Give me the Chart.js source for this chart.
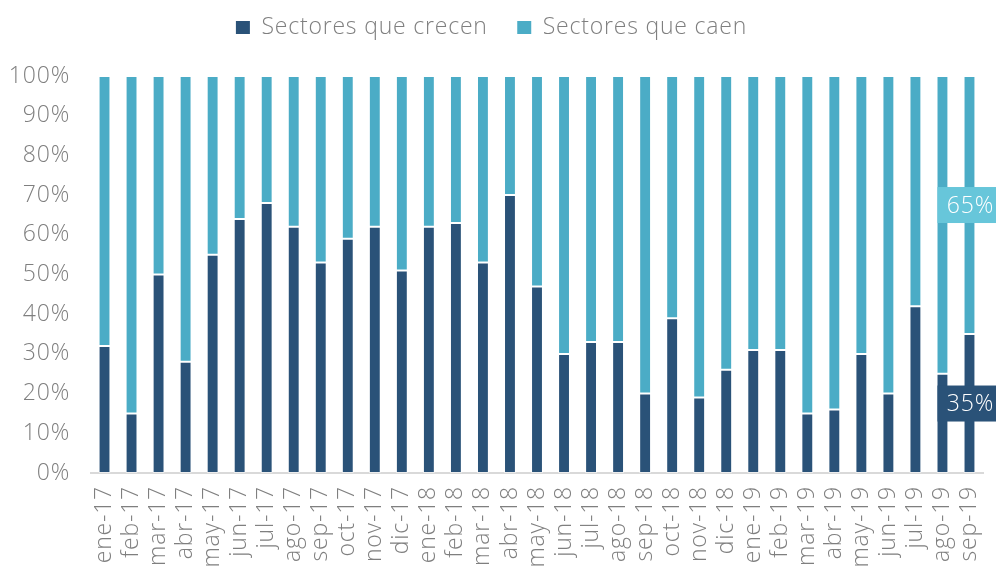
<!DOCTYPE html>
<html><head><meta charset="utf-8">
<script src="https://cdn.jsdelivr.net/npm/chart.js@4"></script>
<style>html,body{margin:0;padding:0;background:#fff;}#wrap{width:996px;height:568px;}</style>
</head><body><div id="wrap"><canvas id="c" width="996" height="568"></canvas></div>
<script>
const categories = ["ene-17","feb-17","mar-17","abr-17","may-17","jun-17","jul-17","ago-17","sep-17","oct-17","nov-17","dic-17",
  "ene-18","feb-18","mar-18","abr-18","may-18","jun-18","jul-18","ago-18","sep-18","oct-18","nov-18","dic-18",
  "ene-19","feb-19","mar-19","abr-19","may-19","jun-19","jul-19","ago-19","sep-19"];
const crecen = [32,15,50,28,55,64,68,62,53,59,62,51,62,63,53,70,47,30,33,33,20,39,19,26,31,31,15,16,30,20,42,25,35];
const caen   = [68,85,50,72,45,36,32,38,47,41,38,49,38,37,47,30,53,70,67,67,80,61,81,74,69,69,85,84,70,80,58,75,65];
const yTicks = [0,10,20,30,40,50,60,70,80,90,100];

const FONT = "'Open Sans', Lato, sans-serif";
const FS = 23;
const GRAY = "#7f7f7f";
const LS = '0.8px';

const spacing = {
  id: 'spacing',
  afterInit(chart) { chart.ctx.letterSpacing = LS; },
  beforeUpdate(chart) { chart.ctx.letterSpacing = LS; },
  beforeDraw(chart) { chart.ctx.letterSpacing = LS; }
};

const lastLabels = {
  id: 'lastLabels',
  afterDatasetsDraw(chart) {
    const ctx = chart.ctx;
    const idx = categories.length - 1;
    const bgs = ['#2a5278', '#67c6da'];
    chart.data.datasets.forEach((ds, di) => {
      const el = chart.getDatasetMeta(di).data[idx];
      const cy = (el.y + el.base) / 2;
      const w = 64, h = 36;
      ctx.save();
      ctx.fillStyle = bgs[di];
      ctx.fillRect(el.x - w / 2, cy - h / 2, w, h);
      ctx.fillStyle = '#ffffff';
      ctx.font = "300 " + FS + "px " + FONT;
      ctx.textAlign = 'center';
      ctx.textBaseline = 'middle';
      ctx.fillText(ds.data[idx] + '%', el.x + 1, cy + 1);
      ctx.restore();
    });
  }
};

function noSidePad(scale) { scale.paddingLeft = 0; scale.paddingRight = 0; }

new Chart(document.getElementById('c'), {
  type: 'bar',
  data: {
    labels: categories,
    datasets: [
      { label: 'Sectores que crecen', data: crecen, backgroundColor: '#2a5278', borderColor: 'rgba(255,255,255,0.5)', borderWidth: 1, borderSkipped: false, xAxisID: 'x' },
      { label: 'Sectores que caen', data: caen, backgroundColor: '#4bacc6', borderColor: 'rgba(255,255,255,0.5)', borderWidth: 1, borderSkipped: false, xAxisID: 'x' }
    ]
  },
  options: {
    responsive: false,
    animation: false,
    devicePixelRatio: 1,
    layout: { padding: { left: 0, right: 13, top: 0, bottom: 0 } },
    datasets: { bar: { categoryPercentage: 1.0, barPercentage: 0.44 } },
    plugins: {
      legend: {
        position: 'top',
        labels: {
          font: { family: FONT, size: FS, weight: '300' },
          color: GRAY,
          boxWidth: 14, boxHeight: 13,
          padding: 16,
          generateLabels(chart) {
            const items = Chart.defaults.plugins.legend.labels.generateLabels(chart);
            items.forEach(it => { it.lineWidth = 0; });
            items[0].text += '  ';
            return items;
          }
        }
      },
      tooltip: { enabled: false }
    },
    scales: {
      x: {
        stacked: true,
        grid: { display: false, drawTicks: false },
        border: { display: true, color: '#d9d9d9', width: 2 },
        ticks: {
          font: { family: FONT, size: FS, weight: '300' },
          color: GRAY,
          maxRotation: 90, minRotation: 90,
          autoSkip: false,
          padding: 13
        },
        afterFit(scale) { scale.height = 95; noSidePad(scale); }
      },
      gap: {
        type: 'category',
        position: 'top',
        display: true,
        grid: { display: false, drawTicks: false },
        border: { display: false },
        ticks: { display: false },
        afterFit(scale) { scale.height = 27; noSidePad(scale); }
      },
      y: {
        stacked: true,
        min: 0, max: 100,
        afterBuildTicks(scale) { scale.ticks = yTicks.map(v => ({ value: v })); },
        grid: { display: false, drawTicks: false },
        border: { display: false },
        ticks: {
          font: { family: FONT, size: FS, weight: '300' },
          color: GRAY,
          padding: 21,
          autoSkip: false,
          callback: v => v + '%'
        },
        afterFit(scale) { scale.width = 91; }
      }
    }
  },
  plugins: [spacing, lastLabels]
});
</script></body></html>
